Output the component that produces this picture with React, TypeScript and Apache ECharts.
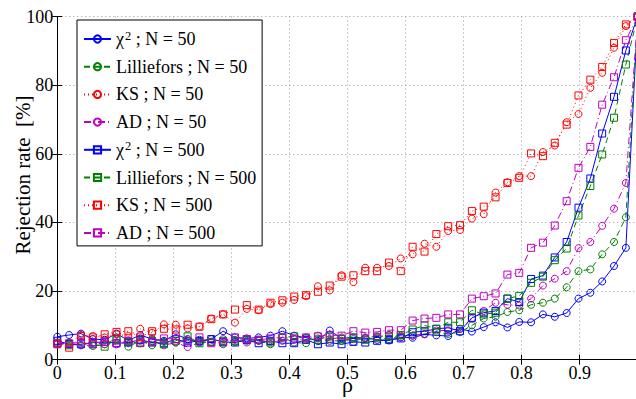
import { useEffect, useRef } from 'react';
import * as echarts from 'echarts';

const rho = [
  0, 0.0204, 0.0408, 0.0612, 0.0816, 0.102, 0.1224, 0.1429, 0.1633, 0.1837,
  0.2041, 0.2245, 0.2449, 0.2653, 0.2857, 0.3061, 0.3265, 0.3469, 0.3673, 0.3878,
  0.4082, 0.4286, 0.449, 0.4694, 0.4898, 0.5102, 0.5306, 0.551, 0.5714, 0.5918,
  0.6122, 0.6327, 0.6531, 0.6735, 0.6939, 0.7143, 0.7347, 0.7551, 0.7755, 0.7959,
  0.8163, 0.8367, 0.8571, 0.8776, 0.898, 0.9184, 0.9388, 0.9592, 0.9796, 1.0,
];

const chi2N50 = [
  6.7, 7.2, 7.6, 6.0, 5.8, 7.6, 5.6, 7.2, 6.0, 5.5,
  7.4, 6.0, 5.2, 6.0, 8.3, 6.5, 6.2, 6.5, 7.0, 8.3,
  7.0, 6.4, 5.5, 8.5, 6.2, 6.5, 6.3, 5.8, 5.6, 6.5,
  6.4, 7.4, 7.1, 6.9, 9.0, 8.2, 9.5, 10.9, 9.4, 11.0,
  10.9, 13.2, 12.5, 13.6, 17.8, 19.5, 22.8, 27.3, 32.6, 100,
];
const lillN50 = [
  4.5, 5.0, 4.2, 4.0, 4.5, 6.2, 3.8, 5.5, 4.2, 5.2,
  5.0, 5.5, 5.8, 5.0, 4.5, 5.2, 5.5, 5.5, 4.5, 6.5,
  5.0, 4.8, 6.2, 5.5, 5.5, 6.0, 6.2, 6.5, 6.0, 7.0,
  7.0, 7.5, 8.0, 7.5, 8.0, 10.0, 12.0, 12.5, 13.9, 14.4,
  16.0, 16.6, 17.8, 21.1, 25.8, 26.3, 30.7, 34.3, 41.5, 100,
];
const ksN50 = [
  4.5, 4.7, 7.2, 6.9, 6.5, 7.4, 6.9, 9.0, 7.8, 10.3,
  10.2, 9.1, 9.7, 12.0, 13.2, 10.8, 14.8, 14.4, 16.2, 16.6,
  17.4, 18.5, 21.4, 20.2, 24.6, 22.6, 26.8, 26.8, 27.3, 29.5,
  30.7, 33.8, 32.9, 37.5, 37.8, 41.1, 42.4, 48.7, 51.7, 53.5,
  53.5, 60.5, 62.4, 69.2, 71.6, 79.2, 83.6, 90.9, 97.2, 100,
];
const adN50 = [
  5.0, 4.5, 4.2, 5.0, 4.5, 4.5, 5.0, 4.8, 5.5, 4.2,
  5.0, 3.7, 5.0, 5.2, 6.0, 5.8, 5.0, 5.5, 5.2, 5.5,
  6.0, 5.8, 7.0, 6.0, 6.5, 5.2, 6.5, 6.8, 7.2, 6.5,
  7.0, 7.5, 8.5, 8.5, 9.0, 12.0, 14.2, 16.6, 16.0, 15.8,
  17.8, 21.6, 23.6, 25.8, 32.5, 34.3, 39.0, 44.0, 51.5, 100,
];
const chi2N500 = [
  5.5, 4.5, 4.5, 5.0, 5.2, 4.8, 5.0, 5.8, 5.0, 4.8,
  6.0, 5.0, 5.5, 6.0, 5.2, 5.0, 5.8, 4.8, 5.5, 4.8,
  4.8, 5.8, 4.5, 5.0, 4.5, 5.2, 5.0, 5.5, 5.8, 6.2,
  8.0, 8.3, 9.0, 9.3, 8.3, 12.2, 13.7, 14.2, 17.8, 16.8,
  23.5, 24.5, 29.8, 34.3, 44.3, 52.8, 65.9, 76.6, 90.1, 100,
];
const lillN500 = [
  4.8, 4.2, 5.0, 4.5, 3.8, 6.0, 5.2, 4.8, 5.5, 4.5,
  5.5, 6.8, 4.8, 5.2, 5.5, 5.5, 6.0, 5.8, 5.0, 6.5,
  6.8, 6.2, 5.8, 6.8, 6.0, 6.5, 5.8, 6.5, 7.0, 7.2,
  8.8, 10.0, 9.0, 10.9, 10.9, 14.4, 13.2, 13.7, 17.8, 18.6,
  22.4, 24.2, 29.0, 32.4, 42.0, 50.6, 59.8, 70.5, 86.0, 100,
];
const ksN500 = [
  4.7, 3.5, 6.9, 6.5, 7.4, 8.1, 8.3, 6.5, 8.3, 9.0,
  8.8, 10.2, 9.6, 11.8, 13.2, 14.6, 15.9, 14.6, 16.6, 17.3,
  18.4, 18.8, 19.8, 21.6, 24.2, 24.6, 25.8, 25.8, 28.3, 25.8,
  32.9, 31.5, 36.6, 38.9, 39.2, 43.3, 44.6, 47.3, 51.5, 53.0,
  60.1, 59.3, 63.2, 68.5, 77.0, 81.6, 85.3, 92.3, 97.7, 100,
];
const adN500 = [
  4.5, 4.8, 5.0, 4.5, 5.2, 4.8, 5.5, 5.0, 5.2, 6.2,
  6.0, 5.5, 6.5, 4.8, 5.0, 6.5, 6.0, 5.8, 6.2, 6.5,
  6.2, 6.5, 6.8, 7.2, 7.0, 8.3, 7.9, 8.1, 8.6, 8.6,
  11.4, 12.0, 12.2, 13.2, 13.2, 17.8, 18.5, 19.3, 24.8, 25.3,
  32.6, 34.1, 39.1, 46.2, 55.9, 62.0, 74.3, 82.3, 93.1, 100,
];

const xTicks = [0, 0.1, 0.2, 0.3, 0.4, 0.5, 0.6, 0.7, 0.8, 0.9, 1];
const yTicks = [0, 20, 40, 60, 80, 100];

const BLUE = '#0000ff';
const GREEN = '#008000';
const RED = '#ff0000';
const MAGENTA = '#bf00bf';
const DASH = [6, 4];
const DOT = [1, 3];
const DASHDOT = [7, 3, 1, 3];

export default function App() {
  const ref = useRef<HTMLDivElement>(null);
  useEffect(() => {
    const chart = echarts.init(ref.current!, null, { renderer: 'svg' });
    const font = "'Liberation Serif', 'Times New Roman', Times, serif";
    const mk = (name: string, data: number[], color: string, dash: any, symbol: string) => ({
      name,
      type: 'line',
      data: rho.map((x, i) => [x, data[i]]),
      symbol,
      symbolSize: 7,
      showSymbol: true,
      clip: true,
      lineStyle: { color, width: 1, type: dash },
      itemStyle: { color: 'rgba(255,255,255,0)', borderColor: color, borderWidth: 1 },
      emphasis: { disabled: true },
    });
    const series = [
      mk('χ2 ; N = 50', chi2N50, BLUE, 'solid', 'circle'),
      mk('Lilliefors ; N = 50', lillN50, GREEN, DASH, 'circle'),
      mk('KS ; N = 50', ksN50, RED, DOT, 'circle'),
      mk('AD ; N = 50', adN50, MAGENTA, DASHDOT, 'circle'),
      mk('χ2 ; N = 500', chi2N500, BLUE, 'solid', 'rect'),
      mk('Lilliefors ; N = 500', lillN500, GREEN, DASH, 'rect'),
      mk('KS ; N = 500', ksN500, RED, DOT, 'rect'),
      mk('AD ; N = 500', adN500, MAGENTA, DASHDOT, 'rect'),
    ];
    const xMin = xTicks[0];
    const xMax = xTicks[xTicks.length - 1];
    const yMin = yTicks[0];
    const yMax = yTicks[yTicks.length - 1];
    const tick = { show: true, inside: true, length: 5, lineStyle: { color: '#000' } };
    const axisLine = { show: true, lineStyle: { color: '#000', width: 1 } };
    const split = { show: true, lineStyle: { color: '#9a9a9a', type: [1, 3], width: 1 } };
    chart.setOption({
      animation: false,
      backgroundColor: '#fff',
      grid: { left: 57.3, top: 16.5, width: 580.4, height: 343.2, outerBoundsMode: 'none', containLabel: false },
      xAxis: [
        {
          type: 'value', min: xMin, max: xMax, interval: 0.1, position: 'bottom',
          axisLine, axisTick: tick, splitLine: split,
          axisLabel: { fontFamily: font, fontSize: 18, color: '#000', margin: 7, lineHeight: 12, showMaxLabel: false },
          name: 'ρ', nameLocation: 'middle', nameGap: 20, nameMoveOverlap: false,
          nameTextStyle: { fontFamily: font, fontSize: 22, color: '#000', verticalAlign: 'top', lineHeight: 10 },
        },
        {
          type: 'value', min: xMin, max: xMax, interval: 0.1, position: 'top',
          axisLine, axisTick: tick, splitLine: { show: false }, axisLabel: { show: false },
        },
      ],
      yAxis: [
        {
          type: 'value', min: yMin, max: yMax, interval: 20, position: 'left',
          axisLine, axisTick: tick, splitLine: split,
          axisLabel: { fontFamily: font, fontSize: 18, color: '#000', margin: 4 },
        },
        {
          type: 'value', min: yMin, max: yMax, interval: 20, position: 'right',
          axisLine, axisTick: tick, splitLine: { show: false }, axisLabel: { show: false },
        },
      ],
      legend: {
        orient: 'vertical', left: 77, top: 20,
        padding: [9, 6, 3, 6],
        itemWidth: 27, itemHeight: 9, itemGap: 7.7,
        backgroundColor: '#fff', borderColor: '#000', borderWidth: 1,
        formatter: (name: string) =>
          name.startsWith('χ2')
            ? `{t|χ}{s|2}{t|${name.slice(2)}}`
            : `{t|${name}}`,
        textStyle: {
          fontFamily: font, fontSize: 18, color: '#000', lineHeight: 20,
          rich: {
            t: { fontFamily: font, fontSize: 18, color: '#000', lineHeight: 20 },
            s: { fontFamily: font, fontSize: 12.5, color: '#000', lineHeight: 12, verticalAlign: 'top', padding: [0, 0, 0, 1] },
          },
        },
        data: series.map((s) => s.name),
      },
      graphic: [
        {
          type: 'text', x: 23, y: 175, rotation: Math.PI / 2,
          style: {
            text: 'Rejection rate  [%]', fontFamily: font, fontSize: 21, fill: '#000',
            align: 'center', verticalAlign: 'middle',
          },
        },
      ],
      series,
    });
    return () => chart.dispose();
  }, []);
  return (
    <div
      ref={ref}
      style={{ position: 'fixed', left: 0, top: 0, width: 636, height: 399, background: '#fff' }}
    />
  );
}
